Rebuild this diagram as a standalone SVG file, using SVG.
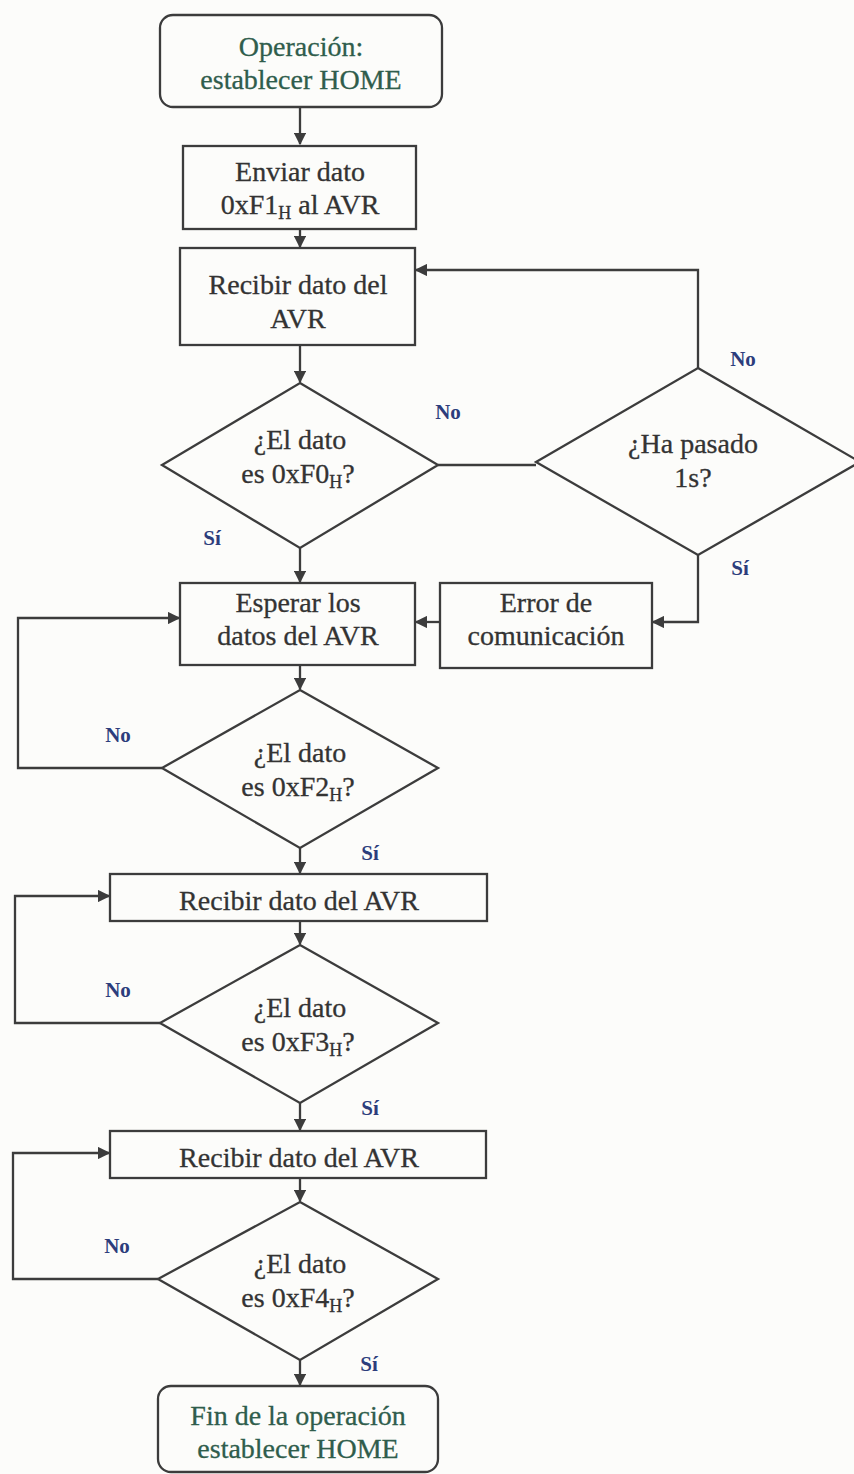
<svg xmlns="http://www.w3.org/2000/svg" width="854" height="1474" viewBox="0 0 854 1474">
  <style>
    .shape { fill: none; stroke: #3c3c3c; stroke-width: 2.3; }
    .wire { fill: none; stroke: #3c3c3c; stroke-width: 2.3; }
    .txt { font-family: "Liberation Serif", "Times New Roman", serif; font-size: 28px; fill: #333333; text-anchor: middle; stroke: #333333; stroke-width: 0.3; }
    .term { fill: #2f5d4c; stroke: #2f5d4c; }
    .lbl { font-family: "Liberation Serif", "Times New Roman", serif; font-size: 21px; font-weight: bold; fill: #2c3d7c; text-anchor: middle; }
    .sub { font-size: 18px; }
  </style>
  <defs>
    <marker id="arrow" viewBox="0 0 10 10" refX="9" refY="5" markerWidth="5.5" markerHeight="5.5" orient="auto">
      <path d="M0,0 L10,5 L0,10 z" fill="#3c3c3c"/>
    </marker>
  </defs>

  <rect width="854" height="1474" fill="#fcfcfa"/>

  <!-- connectors -->
  <g id="connectors">
    <path class="wire" d="M300,107 V144" marker-end="url(#arrow)"/>
    <path class="wire" d="M300,229 V247" marker-end="url(#arrow)"/>
    <path class="wire" d="M300,345 V382" marker-end="url(#arrow)"/>
    <path class="wire" d="M438,465 H536"/>
    <path class="wire" d="M698,368 V270 H416" marker-end="url(#arrow)"/>
    <path class="wire" d="M698,555 V622 H653" marker-end="url(#arrow)"/>
    <path class="wire" d="M440,622 H416" marker-end="url(#arrow)"/>
    <path class="wire" d="M300,548 V582" marker-end="url(#arrow)"/>
    <path class="wire" d="M300,665 V689" marker-end="url(#arrow)"/>
    <path class="wire" d="M162,768 H18 V618 H179" marker-end="url(#arrow)"/>
    <path class="wire" d="M300,848 V873" marker-end="url(#arrow)"/>
    <path class="wire" d="M300,921 V944" marker-end="url(#arrow)"/>
    <path class="wire" d="M160,1023 H15 V896 H109" marker-end="url(#arrow)"/>
    <path class="wire" d="M300,1103 V1130" marker-end="url(#arrow)"/>
    <path class="wire" d="M300,1178 V1201" marker-end="url(#arrow)"/>
    <path class="wire" d="M158,1279 H13 V1153 H109" marker-end="url(#arrow)"/>
    <path class="wire" d="M300,1360 V1385" marker-end="url(#arrow)"/>

    <text class="lbl" x="448" y="419">No</text>
    <text class="lbl" x="743" y="366">No</text>
    <text class="lbl" x="212" y="545">Sí</text>
    <text class="lbl" x="740" y="575">Sí</text>
    <text class="lbl" x="118" y="742">No</text>
    <text class="lbl" x="370" y="860">Sí</text>
    <text class="lbl" x="118" y="997">No</text>
    <text class="lbl" x="370" y="1115">Sí</text>
    <text class="lbl" x="117" y="1253">No</text>
    <text class="lbl" x="369" y="1371">Sí</text>
  </g>

  <g id="start">
    <rect class="shape" x="160" y="15" width="282" height="92" rx="13"/>
    <text class="txt term" x="301" y="56">Operación:</text>
    <text class="txt term" x="301" y="89">establecer HOME</text>
  </g>

  <g id="send-f1">
    <rect class="shape" x="183" y="146" width="233" height="83"/>
    <text class="txt" x="300" y="181">Enviar dato</text>
    <text class="txt" x="300" y="214">0xF1<tspan class="sub" dy="5">H</tspan><tspan dy="-5"> al AVR</tspan></text>
  </g>

  <g id="receive-1">
    <rect class="shape" x="180" y="248" width="235" height="97"/>
    <text class="txt" x="298" y="294">Recibir dato del</text>
    <text class="txt" x="298" y="328">AVR</text>
  </g>

  <g id="check-f0">
    <polygon class="shape" points="300,383 438,465 300,548 162,465"/>
    <text class="txt" x="300" y="449">¿El dato</text>
    <text class="txt" x="298" y="483">es 0xF0<tspan class="sub" dy="5">H</tspan><tspan dy="-5">?</tspan></text>
  </g>

  <g id="timeout">
    <polygon class="shape" points="698,368 860,462 698,555 536,462"/>
    <text class="txt" x="693" y="453">¿Ha pasado</text>
    <text class="txt" x="693" y="487">1s?</text>
  </g>

  <g id="wait">
    <rect class="shape" x="180" y="583" width="235" height="82"/>
    <text class="txt" x="298" y="612">Esperar los</text>
    <text class="txt" x="298" y="645">datos del AVR</text>
  </g>

  <g id="comm-error">
    <rect class="shape" x="440" y="583" width="212" height="85"/>
    <text class="txt" x="546" y="612">Error de</text>
    <text class="txt" x="546" y="645">comunicación</text>
  </g>

  <g id="check-f2">
    <polygon class="shape" points="300,690 438,768 300,848 162,768"/>
    <text class="txt" x="300" y="762">¿El dato</text>
    <text class="txt" x="298" y="796">es 0xF2<tspan class="sub" dy="5">H</tspan><tspan dy="-5">?</tspan></text>
  </g>

  <g id="receive-2">
    <rect class="shape" x="110" y="874" width="377" height="47"/>
    <text class="txt" x="299" y="910">Recibir dato del AVR</text>
  </g>

  <g id="check-f3">
    <polygon class="shape" points="300,945 438,1023 300,1103 160,1023"/>
    <text class="txt" x="300" y="1017">¿El dato</text>
    <text class="txt" x="298" y="1051">es 0xF3<tspan class="sub" dy="5">H</tspan><tspan dy="-5">?</tspan></text>
  </g>

  <g id="receive-3">
    <rect class="shape" x="110" y="1131" width="376" height="47"/>
    <text class="txt" x="299" y="1167">Recibir dato del AVR</text>
  </g>

  <g id="check-f4">
    <polygon class="shape" points="300,1202 438,1279 300,1360 158,1279"/>
    <text class="txt" x="300" y="1273">¿El dato</text>
    <text class="txt" x="298" y="1307">es 0xF4<tspan class="sub" dy="5">H</tspan><tspan dy="-5">?</tspan></text>
  </g>

  <g id="end">
    <rect class="shape" x="158" y="1386" width="280" height="86" rx="13"/>
    <text class="txt term" x="298" y="1425">Fin de la operación</text>
    <text class="txt term" x="298" y="1458">establecer HOME</text>
  </g>
</svg>
